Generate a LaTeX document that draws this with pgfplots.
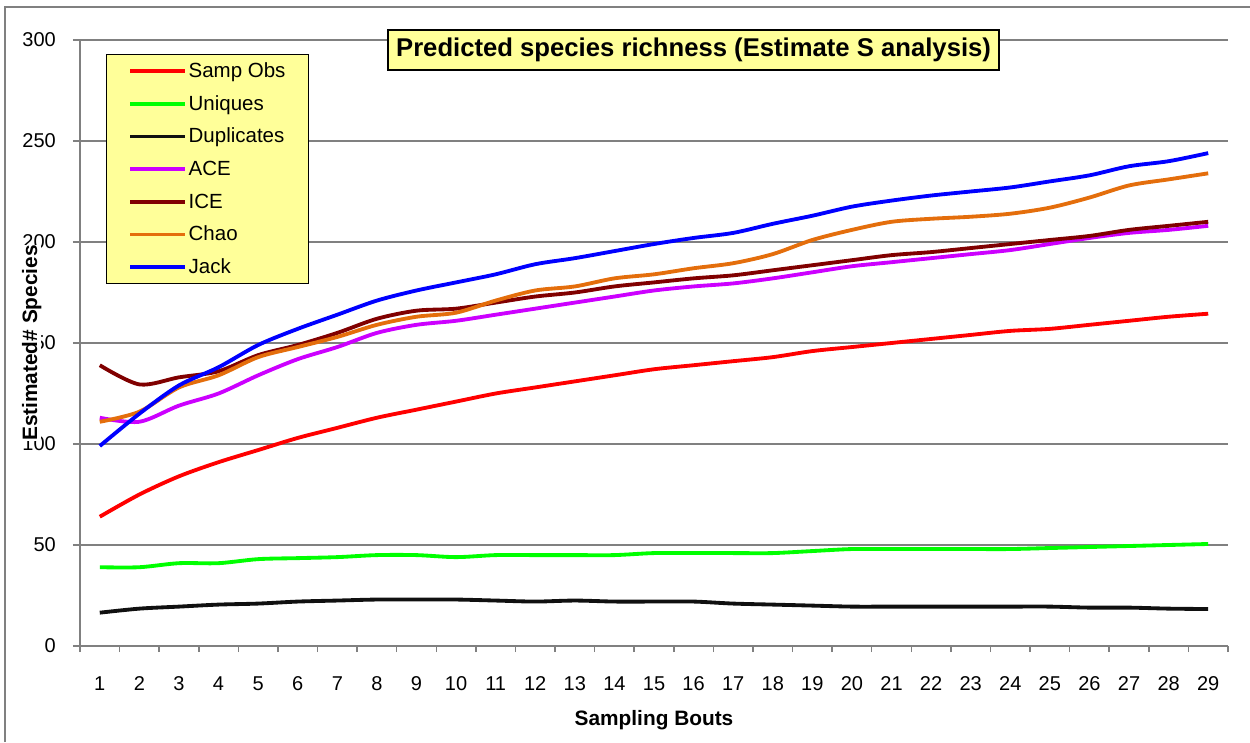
\documentclass[border=0pt]{standalone}
\usepackage{pgfplots}
\pgfplotsset{compat=1.18}
\usepackage{fontspec}
\setmainfont{Liberation Sans}
\definecolor{gridgray}{RGB}{128,128,128}
\definecolor{legyellow}{RGB}{255,255,153}
\definecolor{cSamp}{RGB}{255,0,0}
\definecolor{cUni}{RGB}{0,255,0}
\definecolor{cDup}{RGB}{16,16,16}
\definecolor{cACE}{RGB}{204,0,255}
\definecolor{cICE}{RGB}{128,0,0}
\definecolor{cChao}{RGB}{228,110,12}
\definecolor{cJack}{RGB}{0,0,255}
\begin{document}
\begin{tikzpicture}
\begin{axis}[
  scale only axis,
  width=688.8pt, height=363.6pt,
  at={(0,0)}, anchor=south west,
  xmin=0.5, xmax=29.5, ymin=0, ymax=300,
  xtick={1,...,29},
  minor xtick={0.5,1.5,...,29.5},
  ytick={0,50,...,300},
  ymajorgrids, grid style={gridgray, line width=0.9pt},
  axis x line*=bottom, axis y line*=left,
  axis line style={gridgray, line width=1.4pt, -},
  tick align=outside,
  major x tick style={draw=none},
  minor x tick style={gridgray, line width=0.9pt},
  major y tick style={gridgray, line width=0.9pt},
  major tick length=4.2pt, minor tick length=3.6pt,
  /pgf/number format/assume math mode=true,
  ticklabel style={font=\fontsize{12}{14}\selectfont},
  yticklabel style={xshift=-6.8pt},
  xticklabel style={yshift=-10.6pt},
  xlabel={Sampling Bouts},
  ylabel={Estimated\# Species},
  label style={font=\fontsize{12.5}{15}\selectfont\bfseries},
  xlabel style={at={(axis description cs:0.5,-0.1221)}, anchor=center},
  ylabel style={at={(axis description cs:-0.0421,0.5)}, anchor=center, fill=white, inner sep=0pt},
  every axis plot/.append style={line width=2.3pt, smooth, tension=0.5},
  legend style={at={(axis description cs:0.02265,0.9769)}, anchor=north west,
    fill=legyellow, draw=black, line width=0.6pt,
    font=\fontsize{12.3}{14}\selectfont,
    inner xsep=13pt, inner ysep=4.0pt, row sep=7.6pt,
    nodes={inner sep=1.0pt, text height=8.8pt, text depth=1.2pt}},
  legend cell align=left,
  legend image code/.code={\draw[#1, line width=2.3pt] (0pt,0pt) -- (33pt,0pt);},
  clip=false,
]
\addplot[cSamp] coordinates {(1,64)(2,75)(3,84)(4,91)(5,97)(6,103)(7,108)(8,113)(9,117)(10,121)(11,125)(12,128)(13,131)(14,134)(15,137)(16,139)(17,141)(18,143)(19,146)(20,148)(21,150)(22,152)(23,154)(24,156)(25,157)(26,159)(27,161)(28,163)(29,164.5)};
\addlegendentry{Samp Obs}
\addplot[cUni] coordinates {(1,39)(2,39)(3,41)(4,41)(5,43)(6,43.5)(7,44)(8,45)(9,45)(10,44)(11,45)(12,45)(13,45)(14,45)(15,46)(16,46)(17,46)(18,46)(19,47)(20,48)(21,48)(22,48)(23,48)(24,48)(25,48.5)(26,49)(27,49.5)(28,50)(29,50.5)};
\addlegendentry{Uniques}
\addplot[cDup] coordinates {(1,16.5)(2,18.5)(3,19.5)(4,20.5)(5,21)(6,22)(7,22.5)(8,23)(9,23)(10,23)(11,22.5)(12,22)(13,22.5)(14,22)(15,22)(16,22)(17,21)(18,20.5)(19,20)(20,19.5)(21,19.5)(22,19.5)(23,19.5)(24,19.5)(25,19.5)(26,19)(27,19)(28,18.5)(29,18.3)};
\addlegendentry{Duplicates}
\addplot[cACE] coordinates {(1,113)(2,111)(3,119)(4,125)(5,134)(6,142)(7,148)(8,155)(9,159)(10,161)(11,164)(12,167)(13,170)(14,173)(15,176)(16,178)(17,179.5)(18,182)(19,185)(20,188)(21,190)(22,192)(23,194)(24,196)(25,199)(26,202)(27,204.5)(28,206)(29,208)};
\addlegendentry{ACE}
\addplot[cICE] coordinates {(1,139)(2,129.5)(3,133)(4,136)(5,144)(6,149)(7,155)(8,162)(9,166)(10,167)(11,170)(12,173)(13,175)(14,178)(15,180)(16,182)(17,183.5)(18,186)(19,188.5)(20,191)(21,193.5)(22,195)(23,197)(24,199)(25,201)(26,203)(27,206)(28,208)(29,210)};
\addlegendentry{ICE}
\addplot[cChao] coordinates {(1,111)(2,116)(3,128)(4,134)(5,143)(6,148)(7,153)(8,159)(9,163)(10,165)(11,171)(12,176)(13,178)(14,182)(15,184)(16,187)(17,189.5)(18,194)(19,201)(20,206)(21,210)(22,211.5)(23,212.5)(24,214)(25,217)(26,222)(27,228)(28,231)(29,234)};
\addlegendentry{Chao}
\addplot[cJack] coordinates {(1,99)(2,115)(3,129)(4,138)(5,149)(6,157)(7,164)(8,171)(9,176)(10,180)(11,184)(12,189)(13,192)(14,195.5)(15,199)(16,202)(17,204.5)(18,209)(19,213)(20,217.5)(21,220.5)(22,223)(23,225)(24,227)(25,230)(26,233)(27,237.5)(28,240)(29,244)};
\addlegendentry{Jack}
\node[fill=legyellow, draw=black, line width=1.2pt, minimum width=367pt, minimum height=24pt, inner sep=0pt,
  font=\fontsize{15.4}{17}\selectfont\bfseries] at (axis cs:16,295) {Predicted species richness (Estimate S analysis)};
\end{axis}
\draw[gridgray, line width=0.9pt] (-45pt,-57.6pt) -- (-45pt,383.4pt) -- (702pt,383.4pt);
\pgfresetboundingbox
\useasboundingbox (-48pt,-57.6pt) rectangle (702pt,387.6pt);
\end{tikzpicture}
\end{document}
